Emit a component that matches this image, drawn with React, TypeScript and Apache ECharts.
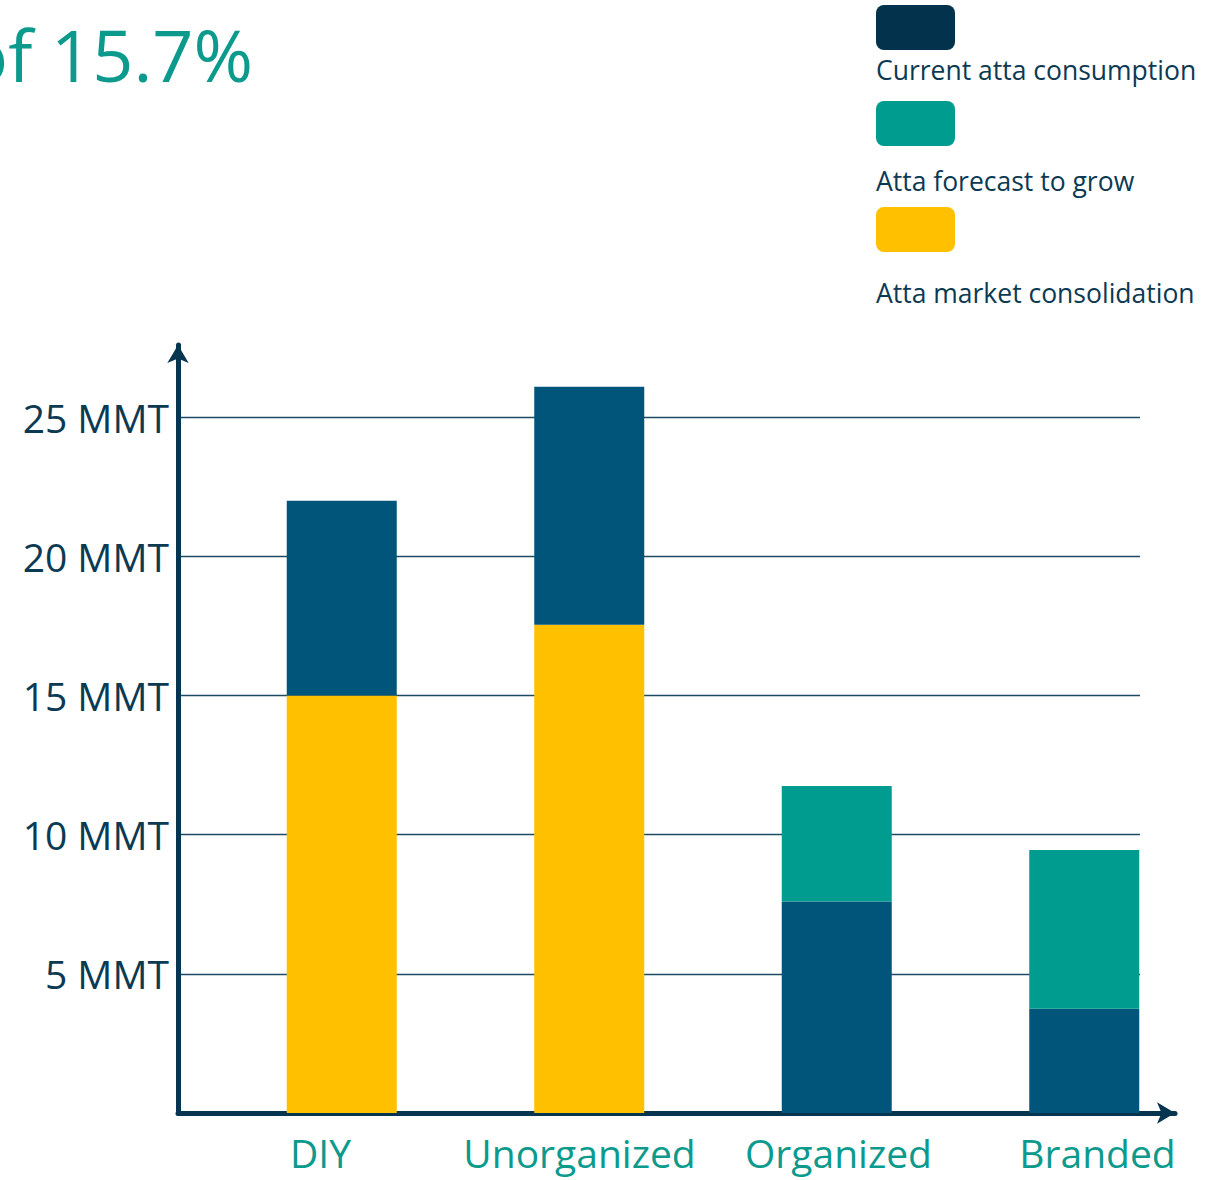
import React, { useEffect, useRef } from 'react';
import * as echarts from 'echarts';

const categories = ['DIY', 'Unorganized', 'Organized', 'Branded'];
const marketConsolidation = [15.0, 17.55, 0, 0];
const currentConsumption = [7.0, 8.55, 7.6, 3.75];
const forecastToGrow = [0, 0, 4.15, 5.7];
const seriesNames = ['Current atta consumption', 'Atta forecast to grow', 'Atta market consolidation'];
const tickUnit = ' MMT';
const titleText = 'of 15.7%';

const BAR_BLUE = '#02557a';
const TEAL = '#009c8f';
const YELLOW = '#ffc000';
const LEGEND_DARK = '#03324d';
const AXIS = '#07344e';
const TEXT_DARK = '#0c3a53';
const LABEL_TEAL = '#0c9a8d';
const FONT = '"Open Sans", "Noto Sans", sans-serif';

const Y_MAX = 27.6;
const TOP = 345;
const H = 768;

export default function App() {
  const ref = useRef<HTMLDivElement>(null);
  useEffect(() => {
    document.body.style.margin = '0';
    const chart = echarts.init(ref.current!, null, { renderer: 'svg' });
    const hiddenY = (gi: number) => ({
      type: 'value', gridIndex: gi, min: 0, max: Y_MAX, interval: 5, show: false,
    });
    const legendColors = [LEGEND_DARK, TEAL, YELLOW];
    const legendSwatchY = [5, 101, 207];
    const legendTextY = [70, 181, 293];
    const legendGraphics: any[] = [];
    seriesNames.forEach((name, i) => {
      legendGraphics.push({
        type: 'rect', left: 876, top: legendSwatchY[i],
        shape: { width: 79, height: 45, r: 8 },
        style: { fill: legendColors[i] },
      });
      legendGraphics.push({
        type: 'text', x: 876, y: legendTextY[i],
        style: { text: name, fill: TEXT_DARK, font: `26.5px ${FONT}`, textAlign: 'left', textVerticalAlign: 'middle' },
      });
    });
    chart.setOption({
      animation: false,
      backgroundColor: '#ffffff',
      textStyle: { fontFamily: FONT },
      grid: [
        { left: 178, top: TOP, width: 962, height: H },
        { left: 218, top: TOP, width: 990, height: H },
        { left: 191, top: TOP, width: 1040, height: H },
        { left: 178, top: TOP, width: 997, height: H },
      ],
      xAxis: [
        { type: 'category', gridIndex: 0, data: categories, show: false },
        { type: 'category', gridIndex: 1, data: categories, show: false },
        {
          type: 'category', gridIndex: 2, data: categories,
          axisLine: { show: false }, axisTick: { show: false },
          axisLabel: { color: LABEL_TEAL, fontSize: 39, fontFamily: FONT, margin: 20, interval: 0 },
        },
        {
          type: 'category', gridIndex: 3, data: categories,
          axisLabel: { show: false }, axisTick: { show: false },
          axisLine: {
            show: true, symbol: ['none', 'arrow'], symbolSize: [16, 18],
            lineStyle: { color: AXIS, width: 5 },
          },
        },
      ],
      yAxis: [
        {
          type: 'value', gridIndex: 0, min: 0, max: Y_MAX, interval: 5,
          axisLine: {
            show: true, onZero: false, symbol: ['none', 'arrow'], symbolSize: [16, 18],
            lineStyle: { color: AXIS, width: 5 },
          },
          axisTick: { show: false },
          axisLabel: {
            color: TEXT_DARK, fontSize: 39, fontFamily: FONT, margin: 9,
            showMaxLabel: false,
            formatter: (v: number) => (v > 0 && v % 5 === 0 ? `${v}${tickUnit}` : ''),
          },
          splitLine: { show: true, showMinLine: false, showMaxLine: false, lineStyle: { color: '#1d4a64', width: 1.3 } },
        },
        hiddenY(1),
        hiddenY(2),
        hiddenY(3),
      ],
      series: [
        {
          name: seriesNames[2], type: 'bar', stack: 'total', xAxisIndex: 1, yAxisIndex: 1,
          barWidth: 110, itemStyle: { color: YELLOW }, data: marketConsolidation,
        },
        {
          name: seriesNames[0], type: 'bar', stack: 'total', xAxisIndex: 1, yAxisIndex: 1,
          barWidth: 110, itemStyle: { color: BAR_BLUE }, data: currentConsumption,
        },
        {
          name: seriesNames[1], type: 'bar', stack: 'total', xAxisIndex: 1, yAxisIndex: 1,
          barWidth: 110, itemStyle: { color: TEAL }, data: forecastToGrow,
        },
      ],
      graphic: [
        {
          type: 'text', x: 253, y: 54,
          style: { text: titleText, fill: LABEL_TEAL, font: `72px ${FONT}`, textAlign: 'right', textVerticalAlign: 'middle' },
        },
        ...legendGraphics,
      ],
    });
    return () => chart.dispose();
  }, []);
  return <div ref={ref} style={{ width: 1227, height: 1180, position: 'absolute', left: 0, top: 0 }} />;
}
